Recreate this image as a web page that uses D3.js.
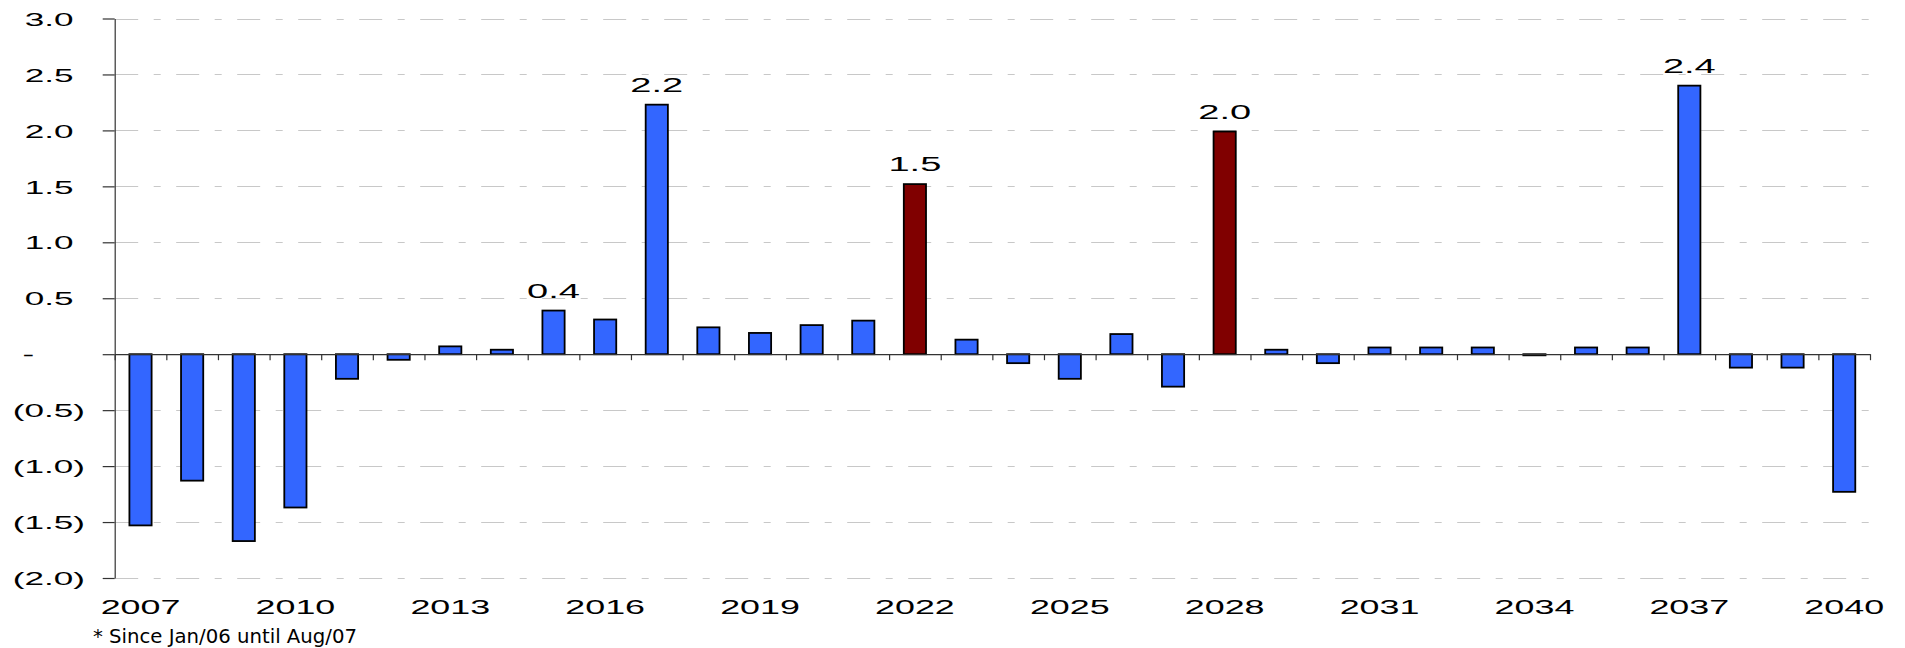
<!DOCTYPE html>
<html>
<head>
<meta charset="utf-8">
<script src="https://cdn.jsdelivr.net/npm/d3@7"></script>
<style>
  html, body { margin: 0; padding: 0; background: #fff; }
  svg { display: block; }
</style>
</head>
<body>
<svg id="chart" width="1905" height="648"></svg>
<script>
const years = ["2007","2008","2009","2010","2011","2012","2013","2014","2015","2016","2017","2018","2019","2020","2021","2022","2023","2024","2025","2026","2027","2028","2029","2030","2031","2032","2033","2034","2035","2036","2037","2038","2039","2040"];
const values = [-1.53,-1.13,-1.67,-1.37,-0.22,-0.05,0.07,0.04,0.39,0.31,2.23,0.24,0.19,0.26,0.30,1.52,0.13,-0.08,-0.22,0.18,-0.29,1.99,0.04,-0.08,0.06,0.06,0.06,-0.01,0.06,0.06,2.40,-0.12,-0.12,-1.23];
const highlightYears = ["2022","2028"];
const labelYears = ["2015","2017","2022","2028","2037"];
const labelTexts = ["0.4","2.2","1.5","2.0","2.4"];
const yTicks = [-2.0,-1.5,-1.0,-0.5,0,0.5,1.0,1.5,2.0,2.5,3.0];
const xTickLabels = ["2007","2010","2013","2016","2019","2022","2025","2028","2031","2034","2037","2040"];
const footnote = "* Since Jan/06 until Aug/07";

(function () {
const data = years.map((yr, i) => ({ year: yr, value: values[i] }));

const svg = d3.select("#chart");
const pLeft = 114.7, pRight = 1870, pTop = 18.5, pBottom = 578;
const font = "'Liberation Sans', Arial, Helvetica, sans-serif";

const x = d3.scaleBand().domain(years).range([pLeft, pRight]).paddingInner(0.57).paddingOuter(0.285);
const xb = d3.scaleLinear().domain([0, years.length]).range([pLeft, pRight]);
const y = d3.scaleLinear().domain([-2, 3]).range([pBottom, pTop]);

const fmt = v => v === 0 ? "-" : (v < 0 ? "(" + d3.format(".1f")(-v) + ")" : d3.format(".1f")(v));

// gridlines
svg.append("g")
  .selectAll("line")
  .data(yTicks.filter(v => v !== 0))
  .join("line")
  .attr("x1", pLeft + 0.5)
  .attr("x2", pRight)
  .attr("y1", d => Math.round(y(d)) + 0.5)
  .attr("y2", d => Math.round(y(d)) + 0.5)
  .attr("stroke", "#c8c8c8")
  .attr("stroke-width", 1)
  .attr("stroke-dasharray", "23,15.5,7,15.5");

// y axis
const yAxis = svg.append("g")
  .attr("transform", `translate(${pLeft},0)`)
  .call(d3.axisLeft(y).tickValues(yTicks).tickSize(12).tickSizeOuter(0).tickFormat(fmt));
yAxis.select(".domain").attr("stroke", "#333").attr("stroke-width", 1.2);
yAxis.selectAll(".tick line").attr("stroke", "#333").attr("stroke-width", 1.2);
yAxis.selectAll(".tick text")
  .attr("x", 0)
  .attr("dy", "0.36em")
  .attr("fill", "#000")
  .style("font-family", font)
  .style("font-size", "18.5px")
  .attr("text-anchor", d => d === 0 ? "start" : "end")
  .attr("transform", d => {
    const tx = d === 0 ? (22.5 - pLeft) : (d < 0 ? (85 - pLeft) : (73.5 - pLeft));
    return `translate(${tx},0) scale(1.9,1)`;
  });

// bars
svg.append("g")
  .selectAll("rect")
  .data(data)
  .join("rect")
  .attr("x", d => x(d.year))
  .attr("width", x.bandwidth())
  .attr("y", d => y(Math.max(0, d.value)))
  .attr("height", d => Math.max(1, Math.abs(y(d.value) - y(0))))
  .attr("fill", d => highlightYears.includes(d.year) ? "#800000" : "#3366FF")
  .attr("stroke", "#000")
  .attr("stroke-width", 1.8);

// zero axis with boundary ticks
const x0Axis = svg.append("g")
  .attr("transform", `translate(0,${y(0)})`)
  .call(d3.axisBottom(xb).tickValues(d3.range(0, years.length + 1)).tickSize(6).tickSizeOuter(0).tickFormat(""));
x0Axis.select(".domain").attr("stroke", "#333").attr("stroke-width", 1.2);
x0Axis.selectAll(".tick line").attr("stroke", "#333").attr("stroke-width", 1.2);

// x labels axis
const xLab = svg.append("g")
  .attr("transform", `translate(0,${pBottom})`)
  .call(d3.axisBottom(x).tickValues(xTickLabels).tickSize(0));
xLab.select(".domain").remove();
xLab.selectAll(".tick text")
  .attr("y", 0)
  .attr("dy", 0)
  .attr("fill", "#000")
  .style("font-family", font)
  .style("font-size", "19.5px")
  .attr("text-anchor", "middle")
  .attr("transform", "translate(0,36) scale(1.84,1)");

// bar value labels
svg.append("g")
  .selectAll("text")
  .data(labelYears.map((yr, i) => ({ year: yr, text: labelTexts[i], value: values[years.indexOf(yr)] })))
  .join("text")
  .attr("text-anchor", "middle")
  .attr("fill", "#000")
  .style("font-family", font)
  .style("font-size", "19.5px")
  .attr("transform", d => `translate(${x(d.year) + x.bandwidth() / 2},${y(d.value) - 13}) scale(1.95,1)`)
  .text(d => d.text);

// footnote
svg.append("text")
  .attr("x", 93)
  .attr("y", 643)
  .attr("fill", "#000")
  .style("font-family", "'DejaVu Sans Condensed', 'DejaVu Sans', sans-serif")
  .style("font-size", "19.5px")
  .attr("textLength", 264)
  .attr("lengthAdjust", "spacingAndGlyphs")
  .text(footnote);
})();
</script>
</body>
</html>
